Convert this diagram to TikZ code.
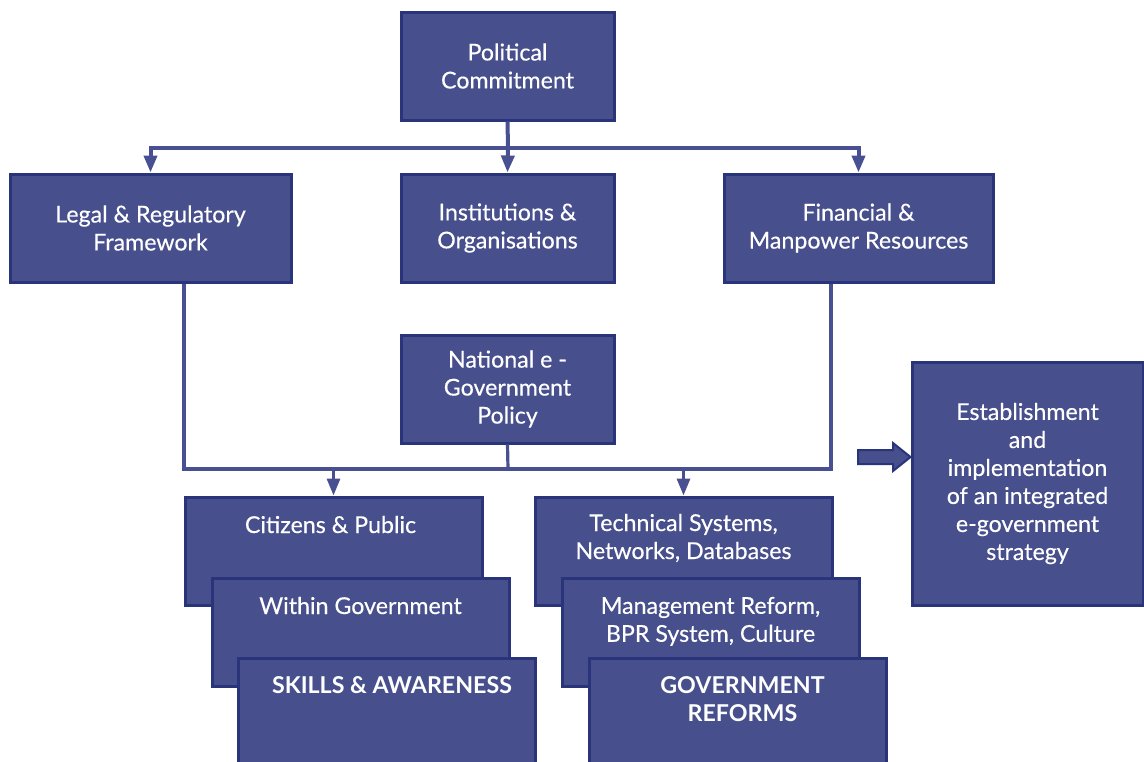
\documentclass[tikz,border=0pt]{standalone}
\usepackage{fontspec}
\setmainfont{Lato}[UprightFeatures={FakeBold=0.35}]
\usepackage{tikz}
\usetikzlibrary{positioning, arrows.meta}
\definecolor{egBlue}{RGB}{71, 79, 140}
\definecolor{egEdge}{RGB}{42, 52, 122}
\definecolor{egLine}{RGB}{72, 80, 145}
\tikzset{
    base/.style={
        font=\fontsize{11.6}{14}\selectfont,
        align=center,
        text=white
    },
    block/.style={
        base,
        rectangle,
        draw=egEdge,
        line width=1.5pt,
        fill=egBlue,
        inner sep=0pt,
        minimum width=106.5pt,
        minimum height=54pt
    },
    wideblock/.style={
        block,
        minimum width=148.5pt
    },
    caption/.style={
        base,
        anchor=north,
        inner sep=0pt,
        yshift=-10pt
    },
    bus/.style={
        draw=egLine,
        line width=2pt
    },
    link/.style={
        bus,
        -{Triangle[width=6.5pt, length=8.5pt]}
    },
    sublink/.style={
        bus,
        line width=1.6pt,
        -{Triangle[width=6.5pt, length=8.5pt]}
    }
}

\begin{document}
\begin{tikzpicture}[x=0.5pt, y=-0.5pt]
    \useasboundingbox (0,0) rectangle (1144,761);

    % Top level
    \node[block] (pc) at (507.5,66) {Political\\Commitment};

    % Pillars
    \node[block, minimum width=140.5pt] (legal) at (150.5,228) {Legal \& Regulatory\\Framework};
    \node[block] (inst) at (507.5,228) {Institutions \&\\Organisations};
    \node[block, minimum width=134.5pt] (fin) at (858.5,228) {Financial \&\\Manpower Resources};

    % Policy
    \node[block] (policy) at (507.5,389) {National e -\\Government\\Policy};

    % Outcome
    \node[block, minimum width=115.5pt, minimum height=121.5pt] (est) at (1027.5,483.5)
        {Establishment\\and\\implementation\\of an integrated\\e-government\\strategy};

    % Skills stack
    \node[wideblock] (cit) at (333.5,551) {};
    \node[caption, xshift=-1.5pt] (citT) at (cit.north) {Citizens \& Public};
    \node[wideblock] (within) at (360.5,632) {};
    \node[caption] (withinT) at (within.north) {Within Government};
    \node[wideblock] (skills) at (387,712) {};
    \node[caption, xshift=2.5pt] (skillsT) at (skills.north) {\bfseries SKILLS \& AWARENESS};

    % Reform stack
    \node[wideblock] (tech) at (683.5,551) {};
    \node[caption, yshift=1pt] (techT) at (tech.north) {Technical Systems,\\Networks, Databases};
    \node[wideblock] (mgmt) at (710.5,632) {};
    \node[caption] (mgmtT) at (mgmt.north) {Management Reform,\\BPR System, Culture};
    \node[wideblock] (gov) at (737.5,712) {};
    \node[caption, xshift=2.5pt] (govT) at (gov.north) {\bfseries GOVERNMENT\\\bfseries REFORMS};

    % Upper connectors
    \coordinate (topbus) at (508,148);
    \draw[bus] (pc.south) -- (topbus);
    \draw[link] (topbus) -| (legal.north);
    \draw[link] (topbus) -- (inst.north);
    \draw[link] (topbus) -| (fin.north);

    % Lower connectors
    \coordinate (lowbus) at (508,469);
    \draw[sublink, -] ([xshift=16.75pt]legal.south) |- (lowbus) -| ([xshift=-13.75pt]fin.south);
    \draw[sublink, -] (policy.south) -- (lowbus);
    \draw[sublink] (cit.north |- lowbus) -- (cit.north);
    \draw[sublink] (tech.north |- lowbus) -- (tech.north);

    % Block arrow
    \draw[fill=egBlue, draw=egEdge, line width=1pt]
        (858,450) -- (893,450) -- (893,443) -- (est.west |- 0,457) -- (893,471)
        -- (893,464) -- (858,464) -- cycle;
\end{tikzpicture}
\end{document}
